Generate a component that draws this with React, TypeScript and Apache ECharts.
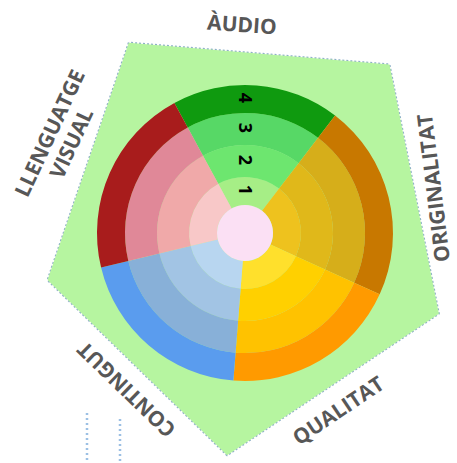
import React, { useEffect, useRef } from 'react';
import * as echarts from 'echarts';

// Sector names (clockwise from top) and their angular spans (degrees)
const sectors = ['ÀUDIO', 'ORIGINALITAT', 'QUALITAT', 'CONTINGUT', 'LLENGUATGE VISUAL'];
const sectorSpans = [66, 77, 70, 72, 75];
// Ring level labels (inner to outer)
const ringLabels = ['1', '2', '3', '4'];
// Colours per ring (inner to outer), per sector in the order above
const ring1Colors = ['#a6ee86', '#eec21e', '#ffe02c', '#b8d6f0', '#f8c8c8'];
const ring2Colors = ['#6de66f', '#e0b81a', '#ffd000', '#a2c4e4', '#f0a9a9'];
const ring3Colors = ['#57d866', '#d6ae1a', '#ffc200', '#88b0d8', '#e08898'];
const ring4Colors = ['#0f9a0f', '#c87800', '#ff9a00', '#5a9cee', '#a81c1c'];
const centerColor = '#fbe0f4';
// Background pentagon: vertex distances from centre (counter-clockwise from top-left vertex)
const pentagonAxes = ['v1', 'v2', 'v3', 'v4', 'v5'];
const pentagonValues = [223, 203, 223, 210, 222];

const CX = 245;
const CY = 233;
const RADII = [28, 56, 88, 120, 148];
const PIE_START = 118.5;
const PENT_START = 121.4;
const PENT_MAX = 225;

const labelLayout = [
  { x: 242, y: 24, rot: -4 },
  { x: 433, y: 188, rot: 97 },
  { x: 338, y: 410, rot: 34 },
  { x: 126, y: 390, rot: 136 },
  { x: 60, y: 138, rot: 65 },
];

export default function App() {
  const ref = useRef<HTMLDivElement>(null);
  useEffect(() => {
    if (!ref.current) return;
    const chart = echarts.init(ref.current, undefined, { renderer: 'svg' });
    const ringColors = [ring1Colors, ring2Colors, ring3Colors, ring4Colors];

    const ringSeries = ringColors.map((cols, i) => ({
      type: 'pie',
      z: 3,
      center: [CX, CY],
      radius: [RADII[i], RADII[i + 1]],
      startAngle: PIE_START,
      clockwise: true,
      silent: true,
      avoidLabelOverlap: false,
      label: { show: false },
      labelLine: { show: false },
      emphasis: { disabled: true },
      itemStyle: { borderWidth: 0 },
      data: sectors.map((name, j) => ({
        name,
        value: sectorSpans[j],
        itemStyle: { color: cols[j], borderWidth: 0 },
      })),
    }));

    const labelTexts = sectors.map((name, i) => ({
      type: 'text',
      z: 20,
      x: labelLayout[i].x,
      y: labelLayout[i].y,
      rotation: (labelLayout[i].rot * Math.PI) / 180,
      style: {
        text: name === 'LLENGUATGE VISUAL' ? 'LLENGUATGE\nVISUAL' : name,
        fill: '#575757',
        font: 'bold 21px "Open Sans", sans-serif',
        align: 'center',
        verticalAlign: 'middle',
        lineHeight: 24,
      },
    }));

    const ringTexts = ringLabels.map((t, i) => ({
      type: 'text',
      z: 20,
      x: CX + 1,
      y: CY - (RADII[i] + RADII[i + 1]) / 2 - 1,
      rotation: -Math.PI / 2,
      style: {
        text: t,
        fill: '#000000',
        font: 'bold 18px "Open Sans", sans-serif',
        align: 'center',
        verticalAlign: 'middle',
      },
    }));

    const dots = [
      { x: 87, y1: 413 },
      { x: 120, y1: 419 },
    ].map((d) => ({
      type: 'line',
      z: 5,
      shape: { x1: d.x, y1: d.y1, x2: d.x, y2: 463 },
      style: { stroke: '#9cc0e4', lineWidth: 2.5, lineDash: [2, 3] },
    }));

    chart.setOption({
      animation: false,
      backgroundColor: '#ffffff',
      radar: {
        center: [CX, CY],
        radius: PENT_MAX,
        startAngle: PENT_START,
        shape: 'polygon',
        splitNumber: 1,
        indicator: pentagonAxes.map((n) => ({ name: n, max: PENT_MAX, min: 0 })),
        axisName: { show: false },
        axisLine: { show: false },
        axisTick: { show: false },
        axisLabel: { show: false },
        splitLine: { show: false },
        splitArea: { show: false },
      },
      series: [
        {
          type: 'radar',
          z: 1,
          silent: true,
          symbol: 'none',
          lineStyle: { color: '#8fb0c8', width: 2, type: [2, 2] },
          areaStyle: { color: '#b6f5a0', opacity: 1 },
          emphasis: { disabled: true },
          data: [{ value: pentagonValues }],
        },
        ...ringSeries,
        {
          type: 'pie',
          z: 4,
          center: [CX, CY],
          radius: [0, RADII[0]],
          silent: true,
          label: { show: false },
          labelLine: { show: false },
          emphasis: { disabled: true },
          itemStyle: { borderWidth: 0 },
          data: [{ name: 'centre', value: 1, itemStyle: { color: centerColor } }],
        },
      ],
      graphic: [...labelTexts, ...ringTexts, ...dots],
    });
    return () => chart.dispose();
  }, []);
  return (
    <div
      ref={ref}
      style={{ position: 'absolute', left: 0, top: 0, width: 457, height: 463 }}
    />
  );
}
